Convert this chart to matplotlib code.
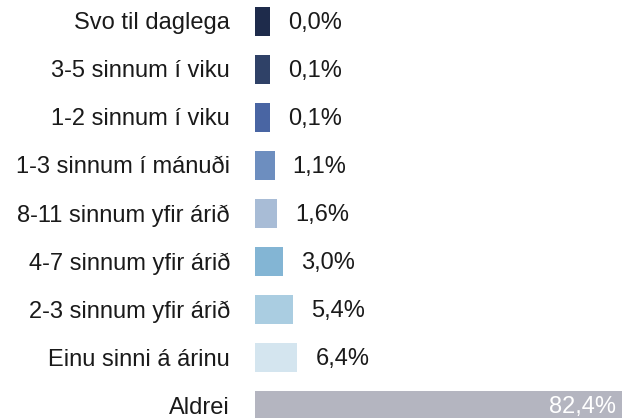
import matplotlib.pyplot as plt

categories = [
    "Svo til daglega",
    "3-5 sinnum í viku",
    "1-2 sinnum í viku",
    "1-3 sinnum í mánuði",
    "8-11 sinnum yfir árið",
    "4-7 sinnum yfir árið",
    "2-3 sinnum yfir árið",
    "Einu sinni á árinu",
    "Aldrei",
]
values = [0.0, 0.1, 0.1, 1.1, 1.6, 3.0, 5.4, 6.4, 82.4]
colors = [
    "#1e2b4b", "#2f4167", "#4965a3", "#6d8ebf", "#a8bcd6",
    "#83b5d4", "#aacde1", "#d4e5ef", "#b4b5c0",
]

plt.rcParams["font.family"] = ["Liberation Sans", "DejaVu Sans"]

x_min, x_max = -3.5, 83.1

fig = plt.figure(figsize=(6.25, 4.18), dpi=100)
ax = fig.add_axes([255 / 625, 0, 370 / 625, 1])

y = list(range(len(categories)))
# bars grow from the axis crossing at the left edge
ax.barh(y, [v - x_min for v in values], left=x_min, height=0.6, color=colors)

for i, (cat, v) in enumerate(zip(categories, values)):
    ax.annotate(cat, (x_min, i), xytext=(-25, -2), textcoords="offset pixels",
                ha="right", va="center", fontsize=17, color="#1a1a1a",
                annotation_clip=False)
    label = f"{v:.1f}%".replace(".", ",")
    if v > 50:
        ax.annotate(label, (v, i), xytext=(-6, -2), textcoords="offset pixels",
                    ha="right", va="center", fontsize=17, color="white")
    else:
        ax.annotate(label, (v, i), xytext=(18, -2), textcoords="offset pixels",
                    ha="left", va="center", fontsize=17, color="#1a1a1a")

ax.set_xlim(x_min, x_max)
ax.set_ylim(8 + 12.5 / 48, -21.5 / 48)
ax.set_xticks([])
ax.set_yticks([])
for spine in ax.spines.values():
    spine.set_visible(False)

fig.savefig("out.png", dpi=100)
